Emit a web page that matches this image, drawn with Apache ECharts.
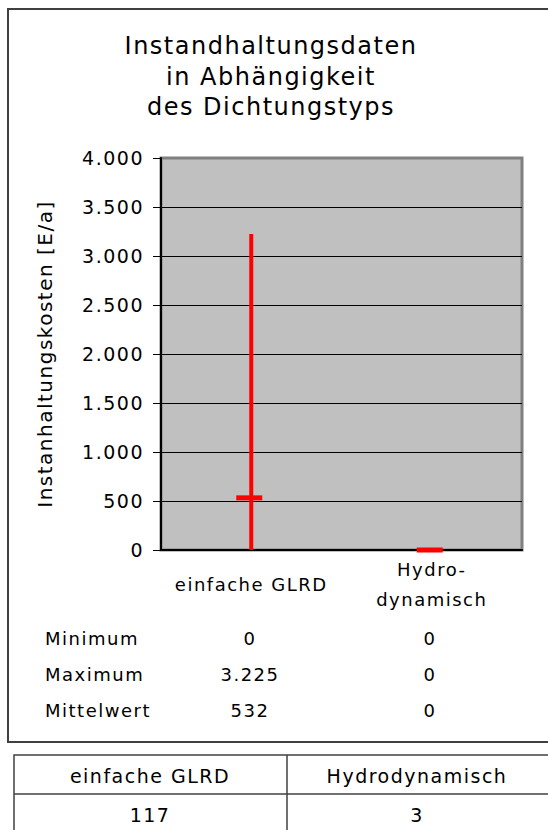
<!DOCTYPE html>
<html lang="de">
<head>
    <meta charset="UTF-8">
    <title>Instandhaltungsdaten</title>
    <style>
        html, body { margin: 0; padding: 0; background: #fff; }
        #main text { letter-spacing: 1.5px; }
    </style>
</head>
<body>
    <div id="main" style="width:548px;height:830px;"></div>

    <script src="https://cdn.jsdelivr.net/npm/echarts@6/dist/echarts.min.js"></script>
    <script>
    // data
    var categories = ['einfache GLRD', 'Hydrodynamisch'];
    var axisLabels = ['einfache GLRD', 'Hydro-\ndynamisch'];
    var minVals = [0, 0];
    var maxVals = [3225, 0];
    var meanVals = [532, 0];
    var counts = [117, 3];
    var rowNames = ['Minimum', 'Maximum', 'Mittelwert'];

    var FONT = 'DejaVu Sans';

    function fmt(v) {
        return String(v).replace(/\B(?=(\d{3})+(?!\d))/g, '.');
    }

    var seriesData = categories.map(function (c, i) {
        return [i, minVals[i], maxVals[i], meanVals[i]];
    });

    // outer frame round the chart
    var graphics = [{
        type: 'rect',
        shape: { x: 8, y: 9, width: 560, height: 733 },
        style: { fill: 'none', stroke: '#404040', lineWidth: 2 },
        z: 0
    }];

    // min / max / mean rows under the chart
    var rows = [minVals, maxVals, meanVals];
    var colX = [250, 430];
    rowNames.forEach(function (name, r) {
        var y = 638 + r * 36;
        graphics.push({
            type: 'text', x: 45, y: y,
            style: { text: name, font: '18px "' + FONT + '"', fill: '#000', textVerticalAlign: 'middle' }
        });
        rows[r].forEach(function (v, c) {
            graphics.push({
                type: 'text', x: colX[c], y: y,
                style: { text: fmt(v), font: '18px "' + FONT + '"', fill: '#000', textAlign: 'center', textVerticalAlign: 'middle' }
            });
        });
    });

    // table with counts at the bottom
    graphics.push({
        type: 'rect',
        shape: { x: 14, y: 755, width: 560, height: 80 },
        style: { fill: 'none', stroke: '#404040', lineWidth: 1.5 }
    });
    graphics.push({
        type: 'line',
        shape: { x1: 14, y1: 794, x2: 560, y2: 794 },
        style: { stroke: '#404040', lineWidth: 1.5 }
    });
    graphics.push({
        type: 'line',
        shape: { x1: 287, y1: 755, x2: 287, y2: 830 },
        style: { stroke: '#404040', lineWidth: 1.5 }
    });
    var tableX = [150, 417];
    categories.forEach(function (c, i) {
        graphics.push({
            type: 'text', x: tableX[i], y: 776,
            style: { text: c, font: '19px "' + FONT + '"', fill: '#000', textAlign: 'center', textVerticalAlign: 'middle' }
        });
        graphics.push({
            type: 'text', x: tableX[i], y: 815,
            style: { text: String(counts[i]), font: '19px "' + FONT + '"', fill: '#000', textAlign: 'center', textVerticalAlign: 'middle' }
        });
    });

    var option = {
        animation: false,
        backgroundColor: '#fff',
        textStyle: { fontFamily: FONT },
        title: {
            text: 'Instandhaltungsdaten\nin Abhängigkeit\ndes Dichtungstyps',
            left: 266,
            top: 26,
            textAlign: 'center',
            textStyle: {
                fontFamily: FONT,
                fontSize: 24,
                fontWeight: 'normal',
                lineHeight: 30.5,
                color: '#000'
            }
        },
        grid: {
            left: 161,
            top: 158,
            width: 361,
            height: 392,
            show: true,
            backgroundColor: '#C0C0C0',
            borderColor: '#808080',
            borderWidth: 3
        },
        xAxis: {
            type: 'category',
            data: categories,
            axisLine: { lineStyle: { color: '#000', width: 2 } },
            axisTick: { show: false },
            axisLabel: {
                formatter: function (v, i) { return axisLabels[i]; },
                fontFamily: FONT,
                fontSize: 18,
                color: '#000',
                lineHeight: 30,
                verticalAlign: 'middle',
                margin: 34
            }
        },
        yAxis: {
            type: 'value',
            min: 0,
            max: 4000,
            interval: 500,
            name: 'Instanhaltungskosten [E/a]',
            nameLocation: 'middle',
            nameRotate: 90,
            nameGap: 106,
            nameTextStyle: { fontFamily: FONT, fontSize: 20, color: '#000' },
            axisLine: { show: true, lineStyle: { color: '#000', width: 2 } },
            axisTick: { show: true, length: 8, lineStyle: { color: '#000' } },
            splitLine: {
                show: true,
                lineStyle: {
                    // last line (4.000) sits on the grey frame
                    color: ['#000', '#000', '#000', '#000', '#000', '#000', '#000', '#000', '#808080'],
                    width: 1
                }
            },
            axisLabel: {
                formatter: fmt,
                fontFamily: FONT,
                fontSize: 19,
                color: '#000',
                margin: 17
            }
        },
        series: [{
            type: 'custom',
            data: seriesData,
            renderItem: function (params, api) {
                var low = api.coord([api.value(0), api.value(1)]);
                var high = api.coord([api.value(0), api.value(2)]);
                var mean = api.coord([api.value(0), api.value(3)]);
                return {
                    type: 'group',
                    children: [{
                        type: 'line',
                        shape: { x1: low[0], y1: low[1], x2: high[0], y2: high[1] },
                        style: { stroke: '#FF0000', lineWidth: 4 }
                    }, {
                        type: 'rect',
                        shape: { x: mean[0] - 15, y: mean[1] - 2.5, width: 26, height: 5 },
                        style: { fill: '#FF0000' }
                    }]
                };
            },
            z: 5
        }],
        graphic: graphics
    };

    var chart = echarts.init(document.getElementById('main'), null, { renderer: 'svg' });
    chart.setOption(option);
    </script>
</body>
</html>
